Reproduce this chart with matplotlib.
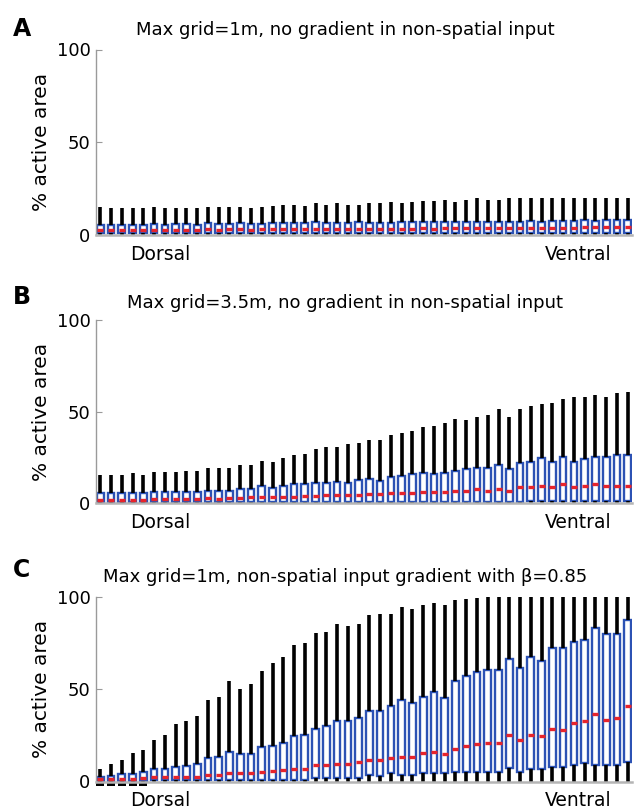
import matplotlib.pyplot as plt
import numpy as np

plt.rcParams["font.family"] = "DejaVu Sans"

positions = np.arange(1, 51)

# Panel A: max grid 1m, no gradient in non-spatial input
a_hi = [15.3, 14.7, 14.7, 14.7, 14.7, 15.3, 14.7, 14.7, 14.7, 14.4,
        15.3, 15.3, 15.3, 15.0, 14.4, 15.3, 15.8, 16.2, 16.2, 15.8,
        17.1, 16.2, 17.1, 16.2, 16.2, 17.5, 17.1, 18.0, 17.1, 18.0,
        18.3, 18.3, 18.9, 18.0, 18.9, 19.8, 18.9, 18.9, 19.8, 19.8,
        20.1, 19.8, 19.8, 19.8, 19.8, 20.1, 19.8, 20.1, 20.1, 19.8]
a_q3 = [5.6, 5.6, 5.6, 5.6, 5.6, 6.0, 5.6, 5.8, 5.8, 5.6,
        6.2, 5.8, 6.0, 6.2, 5.8, 6.0, 6.2, 6.2, 6.2, 6.4,
        7.0, 6.4, 6.6, 6.4, 7.0, 6.6, 6.6, 6.6, 6.8, 6.8,
        7.2, 7.0, 6.8, 7.0, 7.0, 7.2, 7.2, 7.0, 7.2, 7.2,
        7.6, 7.2, 7.4, 7.6, 7.8, 8.0, 7.8, 8.0, 8.0, 8.0]
a_med = [2.6, 2.6, 2.6, 2.6, 2.6, 2.8, 2.8, 2.8, 2.8, 2.8,
         3.0, 2.8, 3.0, 3.0, 2.8, 3.0, 3.0, 3.0, 3.0, 3.0,
         3.2, 3.2, 3.2, 3.2, 3.4, 3.2, 3.4, 3.4, 3.4, 3.4,
         3.6, 3.4, 3.6, 3.6, 3.6, 3.6, 3.8, 3.6, 3.8, 3.8,
         3.8, 3.8, 4.0, 4.0, 4.0, 4.2, 4.2, 4.4, 4.2, 4.4]
a_q1 = [1.0, 1.0, 1.0, 1.0, 1.0, 1.0, 1.0, 1.0, 1.0, 1.0,
        1.0, 1.0, 1.0, 1.0, 1.0, 1.0, 1.0, 1.0, 1.0, 1.0,
        1.1, 1.1, 1.1, 1.1, 1.1, 1.1, 1.1, 1.1, 1.1, 1.1,
        1.2, 1.2, 1.2, 1.2, 1.2, 1.2, 1.2, 1.2, 1.2, 1.2,
        1.2, 1.2, 1.2, 1.2, 1.2, 1.2, 1.2, 1.2, 1.2, 1.2]
a_lo = [0.0] * 50

# Panel B: max grid 3.5m, no gradient in non-spatial input
b_hi = [15.5, 15.5, 15.5, 16.4, 15.5, 17.1, 17.1, 17.1, 17.8, 17.8,
        19.5, 19.5, 19.5, 20.9, 20.9, 23.3, 22.7, 24.5, 26.4, 26.9,
        29.5, 30.5, 30.5, 32.2, 32.7, 34.5, 34.5, 37.3, 38.2, 39.6,
        41.5, 42.2, 44.0, 45.8, 45.5, 47.3, 48.2, 51.3, 47.3, 51.3,
        53.1, 54.2, 54.9, 56.7, 58.2, 58.2, 59.1, 58.2, 60.0, 60.9]
b_q3 = [5.5, 5.5, 5.5, 5.5, 5.5, 6.0, 6.0, 6.0, 6.0, 6.0,
        6.9, 6.9, 6.9, 7.6, 7.6, 9.5, 8.2, 9.5, 10.4, 10.4,
        10.9, 11.3, 11.8, 11.3, 12.7, 13.1, 12.2, 14.2, 15.1, 16.0,
        16.7, 16.0, 16.7, 17.8, 18.5, 19.5, 19.5, 20.9, 18.5, 21.8,
        22.7, 24.5, 22.7, 25.5, 22.7, 24.0, 25.5, 25.5, 26.2, 26.2]
b_med = [1.8, 1.8, 1.8, 1.8, 2.0, 2.2, 2.2, 2.2, 2.4, 2.4,
         2.8, 2.6, 2.8, 3.0, 3.2, 3.4, 3.4, 3.4, 3.6, 3.8,
         4.0, 4.4, 4.6, 4.4, 4.8, 5.1, 5.1, 5.5, 5.5, 5.5,
         6.0, 6.0, 6.0, 6.9, 6.9, 7.6, 6.9, 7.6, 6.9, 8.7,
         8.7, 9.6, 8.7, 10.4, 8.7, 9.6, 10.4, 9.6, 9.6, 9.6]
b_q1 = [0.6, 0.6, 0.6, 0.6, 0.6, 0.6, 0.6, 0.6, 0.6, 0.6,
        0.7, 0.7, 0.7, 0.7, 0.7, 0.7, 0.7, 0.7, 0.7, 0.7,
        0.8, 0.8, 0.8, 0.8, 0.8, 0.8, 0.8, 0.8, 0.8, 0.8,
        0.9, 0.9, 0.9, 0.9, 0.9, 0.9, 0.9, 0.9, 0.9, 0.9,
        1.0, 1.0, 1.0, 1.0, 1.0, 1.0, 1.0, 1.0, 1.0, 1.0]
b_lo = [0.0] * 50

# Panel C: max grid 1m, non-spatial input gradient (beta = 0.85)
c_hi = [6.9, 9.6, 11.7, 15.3, 16.8, 22.6, 25.3, 31.0, 32.5, 35.7,
        44.2, 45.7, 54.2, 50.0, 52.9, 59.9, 64.1, 67.3, 74.0, 74.9,
        80.3, 80.7, 85.2, 84.3, 85.2, 90.3, 90.8, 90.8, 94.4, 93.3,
        95.7, 96.6, 95.7, 98.4, 98.7, 99.5, 100, 100, 100, 100,
        100, 100, 100, 100, 100, 100, 100, 100, 100, 100]
c_q3 = [2.3, 3.1, 4.2, 4.2, 4.9, 6.7, 6.7, 7.6, 8.5, 9.4,
        12.5, 13.5, 15.9, 15.0, 15.0, 18.4, 19.3, 20.8, 24.4, 25.1,
        28.3, 30.1, 32.5, 32.5, 34.1, 38.3, 38.3, 40.6, 44.2, 42.4,
        45.7, 48.2, 45.1, 54.2, 57.2, 59.0, 60.1, 60.1, 66.4, 61.4,
        67.1, 65.0, 72.2, 72.2, 75.5, 76.4, 83.0, 79.8, 79.8, 87.2]
c_med = [1.3, 1.3, 1.3, 1.3, 1.8, 2.2, 2.2, 2.7, 2.7, 2.7,
         3.6, 3.6, 4.5, 4.5, 4.5, 5.4, 5.8, 6.1, 6.9, 6.9,
         8.7, 8.7, 9.6, 9.6, 10.3, 11.7, 11.7, 12.6, 13.5, 13.5,
         15.3, 15.9, 14.8, 17.7, 19.3, 20.2, 21.1, 21.1, 25.1, 22.6,
         25.1, 24.4, 28.5, 27.6, 31.6, 32.5, 36.6, 33.4, 34.5, 41.0]
c_q1 = [0.5, 0.5, 0.5, 0.5, 0.5, 0.9, 0.9, 0.9, 0.9, 0.9,
        0.9, 0.9, 0.9, 0.9, 0.9, 0.9, 0.9, 0.9, 0.9, 0.9,
        1.8, 1.8, 1.8, 1.8, 1.8, 3.6, 3.1, 4.5, 3.6, 3.6,
        4.5, 4.5, 4.5, 4.9, 4.9, 4.9, 5.4, 5.4, 7.2, 5.4,
        6.7, 6.7, 8.1, 8.1, 9.0, 9.9, 9.0, 9.0, 9.0, 10.8]
c_lo = [0.0] * 50

# dark blobs under the first few dorsal boxes in panel C
c_blob_x = [1, 2, 3, 4, 5]
c_blob_bottom = [-2.5, -2.5, -2.5, -2.5, -2.5]
c_blob_top = [1.2, 1.2, 1.2, 1.2, 1.2]

titles = ["Max grid=1m, no gradient in non-spatial input",
          "Max grid=3.5m, no gradient in non-spatial input",
          "Max grid=1m, non-spatial input gradient with \u03b2=0.85"]
letters = ["A", "B", "C"]
yticks = [0, 50, 100]
end_labels = ["Dorsal", "Ventral"]
end_label_pos = [6.6, 45.4]

panels = [(a_lo, a_q1, a_med, a_q3, a_hi),
          (b_lo, b_q1, b_med, b_q3, b_hi),
          (c_lo, c_q1, c_med, c_q3, c_hi)]

W, H = 634, 809
fig = plt.figure(figsize=(W / 100, H / 100), dpi=100)

# axes boxes in pixels: (left, top, right, bottom)
ax_px = [(96, 49.5, 632, 235), (96, 320, 632, 503.3), (96, 596.7, 632, 781.5)]
title_y = [30, 303, 577]
letter_y = [29, 297, 570]

blue = "#2c52b4"
red = "#e8242b"
grey = "#9a9a9a"

for k, (lo, q1, med, q3, hi) in enumerate(panels):
    l, t, r, b = ax_px[k]
    ax = fig.add_axes([l / W, 1 - b / H, (r - l) / W, (b - t) / H])

    stats = []
    for i in range(len(positions)):
        stats.append({"whislo": lo[i], "q1": q1[i], "med": med[i],
                      "q3": q3[i], "whishi": hi[i]})

    ax.bxp(stats, positions=positions, widths=0.62, showcaps=False,
           showfliers=False, patch_artist=True,
           boxprops=dict(facecolor="white", edgecolor=blue, linewidth=1.7),
           whiskerprops=dict(color="black", linewidth=2.6, solid_capstyle="butt"),
           medianprops=dict(linewidth=0))
    ax.plot(positions, med, ls="none", marker="_", ms=5, mew=2.4,
            color=red, zorder=5)

    if k == 2:
        ax.bar(c_blob_x, np.array(c_blob_top) - np.array(c_blob_bottom),
               bottom=c_blob_bottom, width=0.75, color="black",
               clip_on=False, zorder=1.5)

    ax.set_xlim(0.6, 50.4)
    ax.set_ylim(0, 100)
    ax.set_yticks(yticks)
    ax.set_yticklabels([str(v) for v in yticks], fontsize=13)
    ax.set_xticks(end_label_pos)
    ax.set_xticklabels(end_labels, fontsize=13.5)
    ax.tick_params(axis="x", length=0, pad=7)
    ax.tick_params(axis="y", direction="in", length=4, color=grey, pad=4)
    ax.set_ylabel("% active area", fontsize=14.5, labelpad=4)

    for s in ["top", "right"]:
        ax.spines[s].set_visible(False)
    ax.spines["left"].set_color(grey)
    ax.spines["left"].set_linewidth(1.0)
    ax.spines["bottom"].set_color("#b5b5b5")
    ax.spines["bottom"].set_linewidth(1.8)

    fig.text(345 / W, 1 - title_y[k] / H, titles[k], fontsize=13,
             ha="center", va="center")
    fig.text(22 / W, 1 - letter_y[k] / H, letters[k], fontsize=17,
             fontweight="bold", ha="center", va="center")

fig.savefig("out.png", dpi=100)
